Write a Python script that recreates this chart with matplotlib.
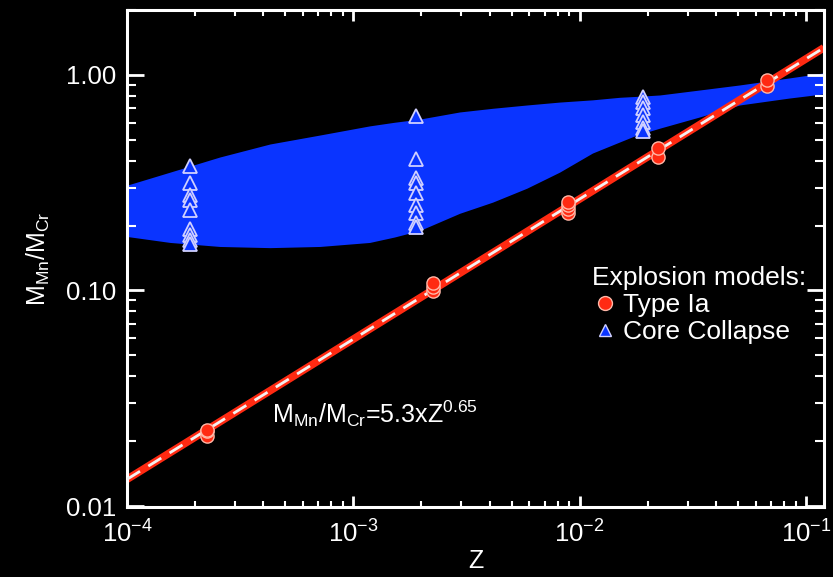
import numpy as np
import matplotlib
matplotlib.use("Agg")
import matplotlib.pyplot as plt
from matplotlib.lines import Line2D
from matplotlib.ticker import LogLocator, FixedLocator, FixedFormatter, NullFormatter

plt.rcParams['font.family'] = ['Liberation Sans', 'DejaVu Sans']
plt.rcParams['mathtext.fontset'] = 'custom'
plt.rcParams['mathtext.rm'] = 'Liberation Sans'
plt.rcParams['mathtext.it'] = 'Liberation Sans'

# Type Ia models
ia_z = [2.25e-4, 2.25e-4, 2.25e-4,
        2.25e-3, 2.25e-3, 2.25e-3,
        8.9e-3, 8.9e-3, 8.9e-3, 8.9e-3,
        0.0223, 0.0223,
        0.0676, 0.0676]
ia_r = [0.0212, 0.0222, 0.0226,
        0.099, 0.104, 0.108,
        0.229, 0.238, 0.248, 0.257,
        0.418, 0.456,
        0.890, 0.948]

# Core collapse models
cc_z = [1.9e-4] * 9 + [1.9e-3] * 9 + [1.9e-2] * 7
cc_r = [0.377, 0.315, 0.277, 0.262, 0.236, 0.192, 0.180, 0.171, 0.164,
        0.645, 0.407, 0.332, 0.315, 0.283, 0.248, 0.228, 0.205, 0.196,
        0.790, 0.748, 0.703, 0.652, 0.604, 0.566, 0.549]

# Core collapse envelope band
band_z = [1.0e-4, 1.55e-4, 2.57e-4, 4.28e-4, 7.11e-4, 1.18e-3, 1.52e-3, 1.97e-3, 2.95e-3, 4.13e-3,
          5.84e-3, 8.16e-3, 1.14e-2, 1.50e-2, 1.79e-2, 2.26e-2, 3.39e-2, 5.09e-2, 8.45e-2, 0.1194]
band_hi = [0.308, 0.354, 0.416, 0.478, 0.526, 0.580, 0.603, 0.624, 0.673, 0.700,
           0.725, 0.748, 0.766, 0.787, 0.795, 0.807, 0.851, 0.898, 0.968, 1.021]
band_lo = [0.178, 0.167, 0.160, 0.158, 0.160, 0.167, 0.177, 0.190, 0.228, 0.257,
           0.298, 0.354, 0.434, 0.488, 0.526, 0.566, 0.638, 0.725, 0.781, 0.816]

# Fit: M_Mn/M_Cr = A * Z^B
fit_a = 5.3
fit_b = 0.65
fit_zrange = [1.0e-4, 0.12]

xlim = (1e-4, 0.12)
ylim = (0.0099, 2.0)

blue = '#0a34ff'
red = '#ff2a12'

fig = plt.figure(figsize=(8.33, 5.77), dpi=100, facecolor='black')
ax = fig.add_axes([0.1525, 0.1213, 0.8365, 0.8614], facecolor='black')
ax.set_xscale('log')
ax.set_yscale('log')

ax.fill_between(band_z, band_lo, band_hi, color=blue, lw=0, zorder=1)

zl = np.logspace(np.log10(fit_zrange[0]), np.log10(fit_zrange[1]), 50)
ax.plot(zl, fit_a * zl ** fit_b, color=red, lw=5.5, zorder=2, solid_capstyle='butt')
ax.plot(zl, fit_a * zl ** fit_b, color='#f4f0f0', lw=2.0, ls=(0, (5.5, 3.5)), zorder=3)

ax.plot(cc_z, cc_r, ls='none', marker='^', ms=10, mfc=blue, mec='#d0d0ff', mew=1.3, zorder=4)
ax.plot(ia_z, ia_r, ls='none', marker='o', ms=9.5, mfc=red, mec='#ffb8a8', mew=1.0, zorder=5)

ax.set_xlim(*xlim)
ax.set_ylim(*ylim)

for s in ax.spines.values():
    s.set_color('white')
    s.set_linewidth(2.2)

ax.tick_params(which='both', direction='in', colors='white', top=True, right=True, labelsize=18.5, width=2)
ax.tick_params(axis='x', which='major', length=8, pad=10)
ax.tick_params(axis='x', which='minor', length=4.5, width=1.5)
ax.tick_params(axis='y', which='major', length=12, pad=8)
ax.tick_params(axis='y', which='minor', length=6.5, width=1.5)

ax.xaxis.set_major_locator(FixedLocator([1e-4, 1e-3, 1e-2, 1e-1]))
ax.xaxis.set_major_formatter(FixedFormatter(['$10^{-4}$', '$10^{-3}$', '$10^{-2}$', '$10^{-1}$']))
ax.xaxis.set_minor_locator(LogLocator(base=10, subs=np.arange(2, 10), numticks=20))
ax.xaxis.set_minor_formatter(NullFormatter())
ax.yaxis.set_major_locator(FixedLocator([0.01, 0.1, 1.0]))
ax.yaxis.set_major_formatter(FixedFormatter(['0.01', '0.10', '1.00']))
ax.yaxis.set_minor_locator(LogLocator(base=10, subs=np.arange(2, 10), numticks=20))
ax.yaxis.set_minor_formatter(NullFormatter())

ax.set_xlabel('Z', color='white', fontsize=18, labelpad=1)
ax.set_ylabel(r'$\mathregular{M_{Mn}/M_{Cr}}$', color='white', fontsize=18, labelpad=10)

ax.text(0.208, 0.169, r'$\mathregular{M_{Mn}/M_{Cr}}$=5.3xZ$^{\mathregular{0.65}}$',
        transform=ax.transAxes, color='white', fontsize=18, va='baseline')

handles = [Line2D([], [], ls='none', marker='o', ms=10, mfc=red, mec='#ffb8a8', mew=1.0),
           Line2D([], [], ls='none', marker='^', ms=9, mfc=blue, mec='#d0d0ff', mew=1.0)]
leg = ax.legend(handles, ['Type Ia', 'Core Collapse'], title='Explosion models:',
                loc='upper left', bbox_to_anchor=(0.667, 0.485), frameon=False,
                fontsize=19, title_fontsize=19, labelcolor='white', alignment='left',
                handletextpad=0.2, handlelength=1.0, borderpad=0, labelspacing=0.12,
                borderaxespad=0)
leg.get_title().set_color('white')

fig.savefig('out.png', dpi=100, facecolor='black')
